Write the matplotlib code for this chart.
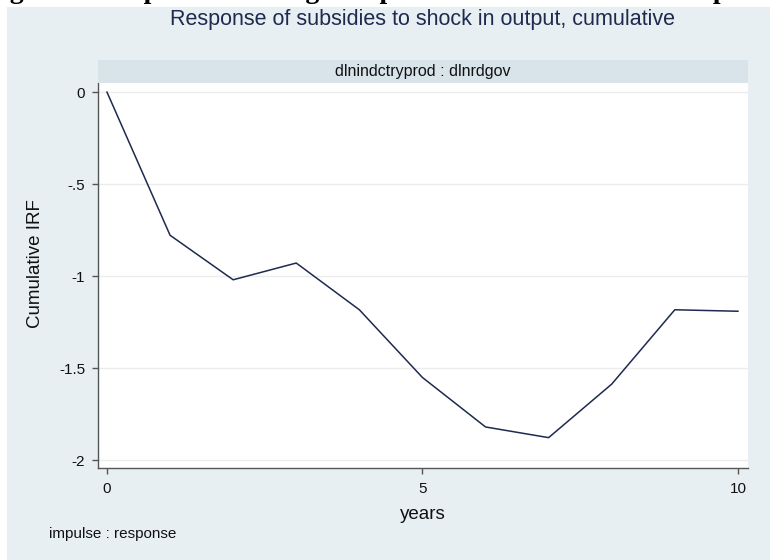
import matplotlib
matplotlib.use("Agg")
import matplotlib.pyplot as plt
from matplotlib.patches import Rectangle

# cumulative IRF
years = [0, 1, 2, 3, 4, 5, 6, 7, 8, 9, 10]
cirf = [0.0, -0.778, -1.020, -0.929, -1.183, -1.551, -1.820, -1.878, -1.587, -1.183, -1.191]
yticks = [0, -0.5, -1, -1.5, -2]
ytick_labels = ["0", "-.5", "-1", "-1.5", "-2"]
xticks = [0, 5, 10]

plt.rcParams["font.family"] = ["Liberation Sans", "DejaVu Sans"]

bg = "#e8eff2"
strip = "#d8e3ea"
navy = "#1e2a4e"

fig = plt.figure(figsize=(7.7, 5.6), dpi=100, facecolor="white")
W, H = 770.0, 560.0

# graph region background (page is white around it)
fig.patches.append(Rectangle((7 / W, 0), 1 - 7 / W, 1 - 7 / H, transform=fig.transFigure,
                             facecolor=bg, edgecolor="none", zorder=-10))

# clipped caption from the document above the graph
fig.text(-0.02, 1 + 2.5 / H, "Figure 4: Response of changes in public R&D subsidies to output shock",
         fontsize=20, fontweight="bold", family="Liberation Serif", va="baseline", ha="left")

left, right = 97.7 / W, 748 / W
bottom, top = 1 - 468 / H, 1 - 83 / H
ax = fig.add_axes([left, bottom, right - left, top - bottom])
ax.set_facecolor("white")
xc = (left + right) / 2

# header strip
fig.patches.append(Rectangle((left, top), right - left, 23 / H, transform=fig.transFigure,
                             facecolor=strip, edgecolor="none"))
fig.text(xc, top + 11.5 / H, "dlnindctryprod : dlnrdgov", ha="center", va="center",
         fontsize=11.5, color="#111111")

fig.text(xc, 1 - 20 / H, "Response of subsidies to shock in output, cumulative",
         ha="center", va="center", fontsize=15.5, color=navy)

ax.plot(years, cirf, color=navy, lw=1.1)

ax.set_xlim(-0.147, 10.16)
ax.set_ylim(-2.043, 0.0495)
ax.set_yticks(yticks)
ax.set_yticklabels(ytick_labels)
ax.set_xticks(xticks)
ax.grid(axis="y", color="#ececec", lw=1)
ax.set_axisbelow(True)

for s in ["top", "right"]:
    ax.spines[s].set_visible(False)
for s in ["left", "bottom"]:
    ax.spines[s].set_color("#555555")
    ax.spines[s].set_linewidth(1)
ax.tick_params(axis="both", length=4, width=1, color="#555555", labelsize=11, labelcolor="#111111")
ax.tick_params(axis="y", pad=5)
ax.tick_params(axis="x", pad=6)

# by-graph titles: y title centred on strip + plot
fig.text(35 / W, 1 - 264 / H, "Cumulative IRF", rotation=90, ha="center", va="center",
         fontsize=13.5, color="#111111")
ax.set_xlabel("years", fontsize=13.5, color="#111111", labelpad=7)

fig.text(49 / W, 1 - 534 / H, "impulse : response", ha="left", va="center", fontsize=11, color="#111111")

fig.savefig("out.png", dpi=100, facecolor="white")
